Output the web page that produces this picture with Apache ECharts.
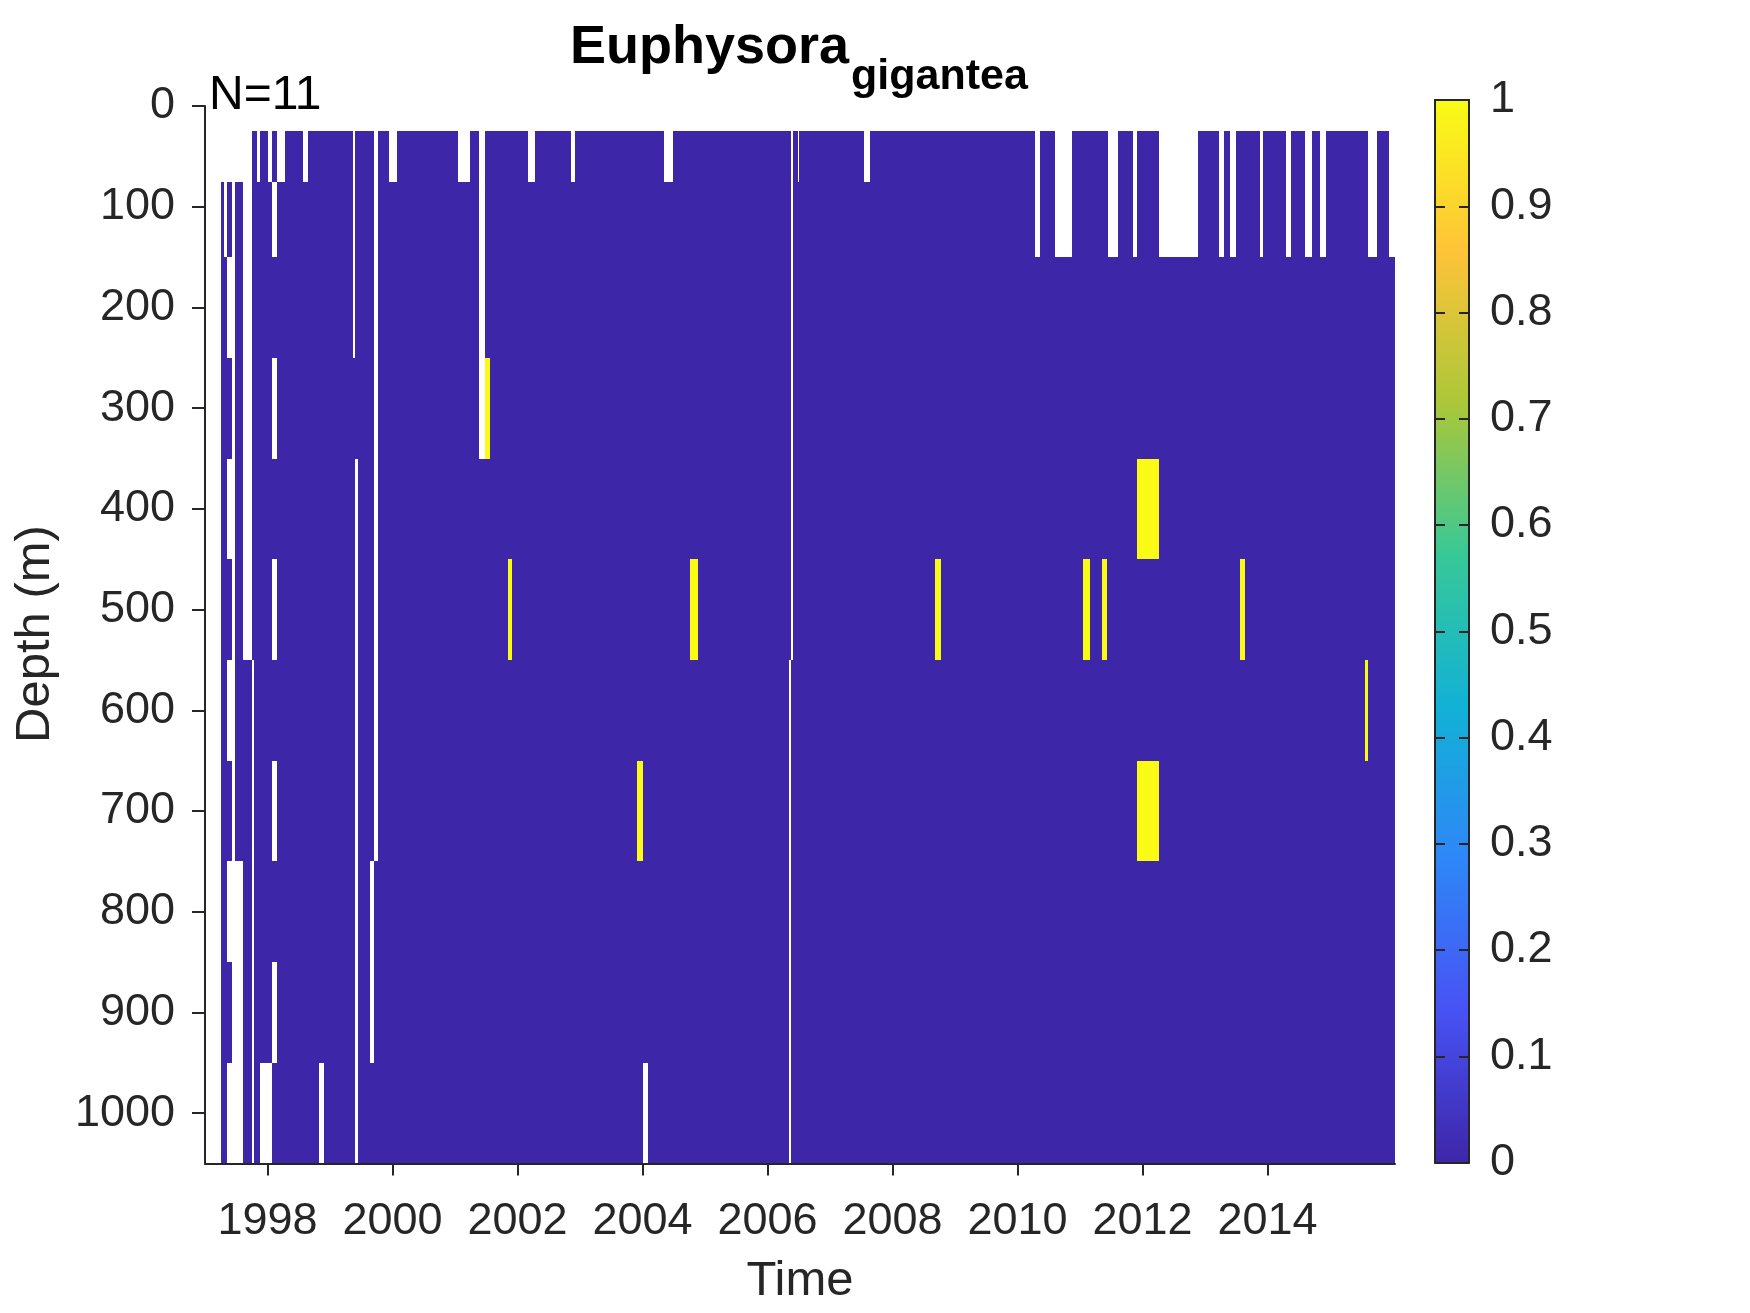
<!DOCTYPE html>
<html>
<head>
<meta charset="utf-8">
<script src="https://cdn.jsdelivr.net/npm/echarts@6/dist/echarts.min.js"></script>
<style>
html,body{margin:0;padding:0;background:#ffffff;}
#chart{width:1750px;height:1313px;}
</style>
</head>
<body>
<div id="chart"></div>
<script>
// ---------------- DATA ----------------
// depth cell edges (m) for the 11 sampled depth rows (50,100,200,...,1000 m)
const depthEdges = [25, 75, 150, 250, 350, 450, 550, 650, 750, 850, 950, 1050];
const depthTicks = [0, 100, 200, 300, 400, 500, 600, 700, 800, 900, 1000];
const yearTicks = [1998, 2000, 2002, 2004, 2006, 2008, 2010, 2012, 2014];
const colorbarTicks = [0, 0.1, 0.2, 0.3, 0.4, 0.5, 0.6, 0.7, 0.8, 0.9, 1];

// early, irregular sampling columns: [start, end, value per depth row (null = no data)]
const earlyColumns = [
  [1997.261, 1997.309, [null, 0, 0, 0, 0, 0, 0, 0, 0, 0, 0]],
  [1997.309, 1997.352, [null, null, 0, 0, 0, 0, 0, 0, 0, 0, 0]],
  [1997.352, 1997.432, [null, 0, null, 0, null, 0, null, 0, null, 0, null]],
  [1997.485, 1997.608, [null, 0, 0, 0, 0, 0, 0, 0, null, null, null]],
  [1997.608, 1997.752, [null, null, null, null, null, null, 0, 0, 0, 0, 0]],
  [1997.752, 1997.778, [0, 0, 0, 0, 0, 0, null, null, null, null, null]],
  [1997.778, 1997.832, [0, 0, 0, 0, 0, 0, 0, 0, 0, 0, 0]],
  [1997.832, 1997.885, [null, 0, 0, 0, 0, 0, 0, 0, 0, 0, 0]],
  [1997.885, 1998.008, [0, 0, 0, 0, 0, 0, 0, 0, 0, 0, null]],
  [1998.008, 1998.072, [null, 0, 0, 0, 0, 0, 0, 0, 0, 0, null]],
  [1998.072, 1998.152, [0, null, 0, null, 0, null, 0, null, 0, null, 0]],
  [1998.152, 1998.285, [null, 0, 0, 0, 0, 0, 0, 0, 0, 0, 0]]
];

// regular sampling period: value 0 everywhere unless listed below
const mainSpan = [1998.285, 2016.04];

// missing data blocks: [start, end, first row, last row]
const missingBlocks = [
  [1998.568, 1998.648, 0, 0],
  [1998.818, 1998.909, 10, 10],
  [1999.368, 1999.405, 0, 2],
  [1999.405, 1999.442, 4, 10],
  [1999.645, 1999.698, 8, 9],
  [1999.698, 1999.762, 0, 7],
  [1999.949, 2000.077, 0, 0],
  [2001.053, 2001.245, 0, 0],
  [2001.389, 2001.485, 0, 3],
  [2002.173, 2002.285, 0, 0],
  [2002.861, 2002.925, 0, 0],
  [2004.013, 2004.088, 10, 10],
  [2004.349, 2004.493, 0, 0],
  [2006.344, 2006.376, 6, 10],
  [2006.376, 2006.408, 0, 5],
  [2006.482, 2006.504, 0, 0],
  [2007.549, 2007.645, 0, 0],
  [2010.285, 2010.365, 0, 1],
  [2010.600, 2010.877, 0, 1],
  [2011.437, 2011.613, 0, 1],
  [2011.853, 2011.917, 0, 1],
  [2012.264, 2012.893, 0, 1],
  [2013.218, 2013.309, 0, 1],
  [2013.400, 2013.501, 0, 1],
  [2013.885, 2013.933, 0, 1],
  [2014.301, 2014.381, 0, 1],
  [2014.605, 2014.717, 0, 1],
  [2014.845, 2014.941, 0, 1],
  [2015.613, 2015.757, 0, 1],
  [2015.949, 2016.040, 0, 1]
];

// presence (value 1) blocks: [start, end, first row, last row]
const presenceBlocks = [
  [2001.485, 2001.565, 3, 3],
  [2001.848, 2001.917, 5, 5],
  [2003.912, 2004.013, 7, 7],
  [2004.764, 2004.893, 5, 5],
  [2008.685, 2008.781, 5, 5],
  [2011.048, 2011.165, 5, 5],
  [2011.352, 2011.432, 5, 5],
  [2011.912, 2012.269, 4, 4],
  [2011.912, 2012.269, 7, 7],
  [2013.565, 2013.645, 5, 5],
  [2015.565, 2015.613, 6, 6]
];

// parula colormap
const parula = ['#3E26A8', '#4852F4', '#2E87F7', '#12B1D6', '#37C897', '#ABC739', '#FEC338', '#F9FB15'];

// ---------------- BUILD CELLS ----------------
function buildCells() {
  const cells = [];
  function pushColumn(t0, t1, vals) {
    let r = 0;
    while (r < vals.length) {
      const v = vals[r];
      let r2 = r;
      while (r2 + 1 < vals.length && vals[r2 + 1] === v) r2++;
      if (v !== null) cells.push([t0, t1, depthEdges[r], depthEdges[r2 + 1], v]);
      r = r2 + 1;
    }
  }
  earlyColumns.forEach(c => pushColumn(c[0], c[1], c[2]));
  const edgeSet = new Set([mainSpan[0], mainSpan[1]]);
  missingBlocks.concat(presenceBlocks).forEach(b => { edgeSet.add(b[0]); edgeSet.add(b[1]); });
  const edges = [...edgeSet].filter(e => e >= mainSpan[0] && e <= mainSpan[1]).sort((a, b) => a - b);
  const nRows = depthEdges.length - 1;
  for (let i = 0; i < edges.length - 1; i++) {
    const t0 = edges[i], t1 = edges[i + 1], mid = (t0 + t1) / 2;
    const vals = [];
    for (let r = 0; r < nRows; r++) {
      const inside = b => mid > b[0] && mid < b[1] && r >= b[2] && r <= b[3];
      if (missingBlocks.some(inside)) vals.push(null);
      else if (presenceBlocks.some(inside)) vals.push(1);
      else vals.push(0);
    }
    pushColumn(t0, t1, vals);
  }
  return cells;
}
const cells = buildCells();

// ---------------- CHART ----------------
const FONT = '"Liberation Sans", Arial, Helvetica, sans-serif';
const AX = '#262626';
const chart = echarts.init(document.getElementById('chart'), null, {renderer: 'canvas'});

const option = {
  backgroundColor: '#ffffff',
  animation: false,
  textStyle: {fontFamily: FONT},
  grid: [
    {left: 205, top: 106, width: 1190, height: 1057.5, containLabel: false},
    {left: 1435, top: 100, width: 34, height: 1062.5, containLabel: false}
  ],
  xAxis: [
    {
      type: 'value', gridIndex: 0, min: 1997.0, max: 2016.04, z: 5,
      axisLine: {show: true, onZero: false, lineStyle: {color: AX, width: 2}},
      axisTick: {show: true, inside: false, length: 12, customValues: yearTicks, lineStyle: {color: AX, width: 2}},
      axisLabel: {show: true, customValues: yearTicks, formatter: v => String(Math.round(v)),
        fontSize: 45, color: AX, margin: 36, fontFamily: FONT},
      splitLine: {show: false}
    },
    {
      type: 'value', gridIndex: 1, min: 0, max: 1, position: 'bottom', z: 10,
      axisLine: {show: true, onZero: false, lineStyle: {color: AX, width: 2}},
      axisTick: {show: false}, axisLabel: {show: false}, splitLine: {show: false}
    },
    {
      type: 'value', gridIndex: 1, min: 0, max: 1, position: 'top', z: 10,
      axisLine: {show: true, onZero: false, lineStyle: {color: AX, width: 2}},
      axisTick: {show: false}, axisLabel: {show: false}, splitLine: {show: false}
    }
  ],
  yAxis: [
    {
      type: 'value', gridIndex: 0, inverse: true, min: 0, max: 1050, z: 5,
      axisLine: {show: true, onZero: false, lineStyle: {color: AX, width: 2}},
      axisTick: {show: true, inside: false, length: 13, customValues: depthTicks, lineStyle: {color: AX, width: 2}},
      axisLabel: {show: true, customValues: depthTicks, formatter: v => String(Math.round(v)),
        fontSize: 45, color: AX, margin: 30, fontFamily: FONT},
      splitLine: {show: false}
    },
    {
      type: 'value', gridIndex: 1, min: 0, max: 1, position: 'left', z: 10,
      axisLine: {show: true, onZero: false, lineStyle: {color: AX, width: 2}},
      axisTick: {show: true, inside: true, length: 10, customValues: colorbarTicks, lineStyle: {color: AX, width: 2}},
      axisLabel: {show: false}, splitLine: {show: false}
    },
    {
      type: 'value', gridIndex: 1, min: 0, max: 1, position: 'right', z: 10,
      axisLine: {show: true, onZero: false, lineStyle: {color: AX, width: 2}},
      axisTick: {show: true, inside: true, length: 10, customValues: colorbarTicks, lineStyle: {color: AX, width: 2}},
      axisLabel: {show: true, customValues: colorbarTicks, formatter: v => String(+v.toFixed(1)),
        fontSize: 45, color: AX, margin: 21, fontFamily: FONT},
      splitLine: {show: false}
    }
  ],
  visualMap: [{
    type: 'continuous', show: false, min: 0, max: 1, dimension: 4, seriesIndex: 0,
    inRange: {color: parula}
  }],
  series: [
    {
      type: 'custom', name: 'presence', xAxisIndex: 0, yAxisIndex: 0, z: 2,
      data: cells,
      encode: {x: [0, 1], y: [2, 3]},
      renderItem: function (params, api) {
        const p0 = api.coord([api.value(0), api.value(2)]);
        const p1 = api.coord([api.value(1), api.value(3)]);
        const x0 = Math.round(Math.min(p0[0], p1[0]));
        const x1 = Math.round(Math.max(p0[0], p1[0]));
        const y0 = Math.round(Math.min(p0[1], p1[1]));
        const y1 = Math.round(Math.max(p0[1], p1[1]));
        return {
          type: 'rect',
          shape: {x: x0, y: y0, width: Math.max(1, x1 - x0), height: y1 - y0},
          style: {fill: api.visual('color')}
        };
      }
    },
    {
      type: 'custom', name: 'colorbar', xAxisIndex: 1, yAxisIndex: 1, z: 1,
      data: [[0, 1, 0, 1]],
      encode: {x: [0, 1], y: [2, 3]},
      renderItem: function (params, api) {
        const p0 = api.coord([api.value(0), api.value(2)]);
        const p1 = api.coord([api.value(1), api.value(3)]);
        const stops = parula.map((c, i) => ({offset: i / (parula.length - 1), color: c}));
        return {
          type: 'rect',
          shape: {x: Math.min(p0[0], p1[0]), y: Math.min(p0[1], p1[1]),
                  width: Math.abs(p1[0] - p0[0]), height: Math.abs(p1[1] - p0[1])},
          style: {fill: new echarts.graphic.LinearGradient(0, 1, 0, 0, stops)}
        };
      }
    }
  ],
  graphic: [
    {type: 'text', x: 570, y: 48, z: 20,
     style: {text: 'Euphysora', font: 'bold 54px ' + FONT, fill: '#000000', align: 'left', verticalAlign: 'middle'}},
    {type: 'text', x: 851, y: 77, z: 20,
     style: {text: 'gigantea', font: 'bold 43px ' + FONT, fill: '#000000', align: 'left', verticalAlign: 'middle'}},
    {type: 'text', x: 209, y: 96, z: 20,
     style: {text: 'N=11', font: '48px ' + FONT, fill: '#000000', align: 'left', verticalAlign: 'middle'}},
    {type: 'text', x: 800, y: 1281, z: 20,
     style: {text: 'Time', font: '49px ' + FONT, fill: AX, align: 'center', verticalAlign: 'middle'}},
    {type: 'text', x: 35, y: 634, rotation: Math.PI / 2, z: 20,
     style: {text: 'Depth (m)', font: '49px ' + FONT, fill: AX, align: 'center', verticalAlign: 'middle'}}
  ]
};
chart.setOption(option);
</script>
</body>
</html>
